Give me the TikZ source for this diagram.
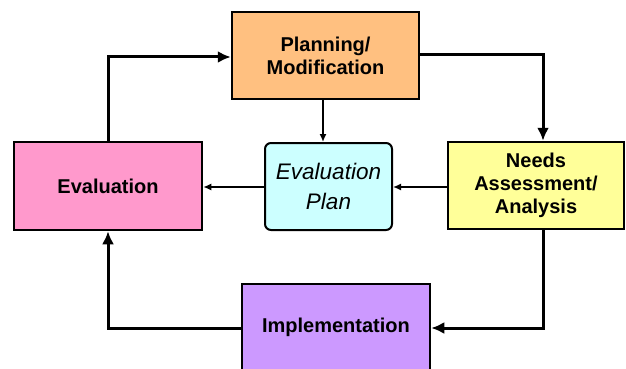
\documentclass[tikz,border=0pt]{standalone}
\usepackage{fontspec}
\setmainfont{Liberation Sans}
\usetikzlibrary{arrows.meta}
\definecolor{cplan}{HTML}{FFC080}
\definecolor{cevp}{HTML}{CCFFFF}
\definecolor{cneed}{HTML}{FFFF99}
\definecolor{ceval}{HTML}{FF99CC}
\definecolor{cimpl}{HTML}{CC99FF}
\begin{document}
\begin{tikzpicture}[x=1pt,y=-1pt,
  box/.style={draw=black,line width=2.5pt,inner sep=0pt,align=center,font=\fontsize{20}{23}\selectfont\bfseries},
  thickarr/.style={line width=3pt,-{Latex[length=13pt,width=12pt]}},
  thinarr/.style={line width=1.5pt,-{Latex[length=8pt,width=7pt]}}]
\useasboundingbox (0,0) rectangle (626,369);
\node[box,fill=cplan,minimum width=187pt,minimum height=87pt] (plan) at (325.5,55.5) {Planning/\\Modification};
\node[box,fill=cevp,line width=2pt,rounded corners=6pt,font=\fontsize{22.5}{30}\selectfont\itshape,minimum width=127pt,minimum height=87pt] (evp) at (328.5,186.5) {Evaluation\\Plan};
\node[box,fill=cneed,minimum width=176pt,minimum height=87pt] (need) at (536,185.5) {Needs\\Assessment/\\Analysis};
\node[box,fill=ceval,minimum width=188pt,minimum height=88pt] (eval) at (108,186) {Evaluation};
\node[box,fill=cimpl,minimum width=188pt,minimum height=100pt,text depth=56pt,text height=0pt] (impl) at (336,334) {};
\node[font=\fontsize{20}{23}\selectfont\bfseries] (impltext) at (336,327) {Implementation};
\coordinate (c1) at (108,57);
\coordinate (c2) at (543,55);
\coordinate (c3) at (543,328);
\coordinate (c4) at (108,328);
\draw[thickarr] (eval.north -| c1) -- (c1) -- (c1 -| plan.west);
\draw[thickarr] (plan.east |- c2) -- (c2) -- (c2 |- need.north);
\draw[thinarr] (plan.south -| 323,0) -- (evp.north -| 323,0);
\draw[thinarr] (need.west |- 0,187) -- (evp.east |- 0,187);
\draw[thinarr] (evp.west |- 0,187) -- (eval.east |- 0,187);
\draw[thickarr] (need.south -| c3) -- (c3) -- (c3 -| impl.east);
\draw[thickarr] (impl.west |- c4) -- (c4) -- (c4 |- eval.south);
\end{tikzpicture}
\end{document}
